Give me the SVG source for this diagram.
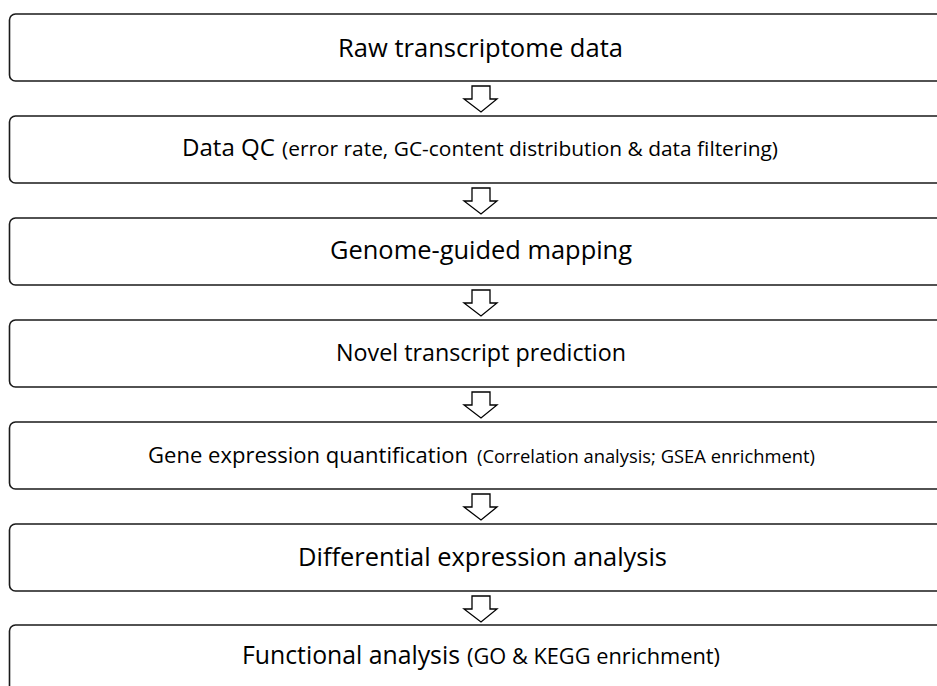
<svg xmlns="http://www.w3.org/2000/svg" xmlns:xlink="http://www.w3.org/1999/xlink" width="937" height="686" viewBox="0 0 937 686">
<style>
.box{fill:#fff;stroke:#1a1a1a;stroke-width:1.6}
text{font-family:"Open Sans","Liberation Sans",sans-serif;fill:#000}
.m{font-size:25.5px}
.arr{fill:#fff;stroke:#000;stroke-width:1.3;stroke-linejoin:miter}
</style>
<defs>
<path id="dn" class="arr" d="M472,5 H490 V18 H497 L481,31 L464,18 H472 Z"/>
</defs>
<rect width="937" height="686" fill="#fff"/>
<g id="connectors">
<use xlink:href="#dn" href="#dn" y="81"/>
<use xlink:href="#dn" href="#dn" y="183"/>
<use xlink:href="#dn" href="#dn" y="285"/>
<use xlink:href="#dn" href="#dn" y="387"/>
<use xlink:href="#dn" href="#dn" y="489"/>
<use xlink:href="#dn" href="#dn" y="591"/>
</g>
<g id="n1"><rect class="box" x="9.5" y="14" width="944" height="67" rx="6"/><text class="m" x="338" y="57" textLength="285" lengthAdjust="spacingAndGlyphs">Raw transcriptome data</text></g>
<g id="n2"><rect class="box" x="9.5" y="116" width="944" height="67" rx="6"/><text x="182" y="156" font-size="24.5" textLength="93" lengthAdjust="spacingAndGlyphs">Data QC</text><text x="282" y="156" font-size="20.8" textLength="496" lengthAdjust="spacingAndGlyphs">(error rate, GC-content distribution &amp; data filtering)</text></g>
<g id="n3"><rect class="box" x="9.5" y="218" width="944" height="67" rx="6"/><text class="m" x="330" y="259" textLength="302" lengthAdjust="spacingAndGlyphs">Genome-guided mapping</text></g>
<g id="n4"><rect class="box" x="9.5" y="320" width="944" height="67" rx="6"/><text x="336" y="361" font-size="24.5" textLength="290" lengthAdjust="spacingAndGlyphs">Novel transcript prediction</text></g>
<g id="n5"><rect class="box" x="9.5" y="422" width="944" height="67" rx="6"/><text x="148" y="463" font-size="22.2" textLength="320" lengthAdjust="spacingAndGlyphs">Gene expression quantification</text><text x="477" y="463" font-size="18.3" textLength="338" lengthAdjust="spacingAndGlyphs">(Correlation analysis; GSEA enrichment)</text></g>
<g id="n6"><rect class="box" x="9.5" y="524" width="944" height="67" rx="6"/><text class="m" x="298" y="566" textLength="369" lengthAdjust="spacingAndGlyphs">Differential expression analysis</text></g>
<g id="n7"><rect class="box" x="9.5" y="625" width="944" height="67" rx="6"/><text x="242" y="664" font-size="25" textLength="218" lengthAdjust="spacingAndGlyphs">Functional analysis</text><text x="467" y="664" font-size="21" textLength="253" lengthAdjust="spacingAndGlyphs">(GO &amp; KEGG enrichment)</text></g>
</svg>
